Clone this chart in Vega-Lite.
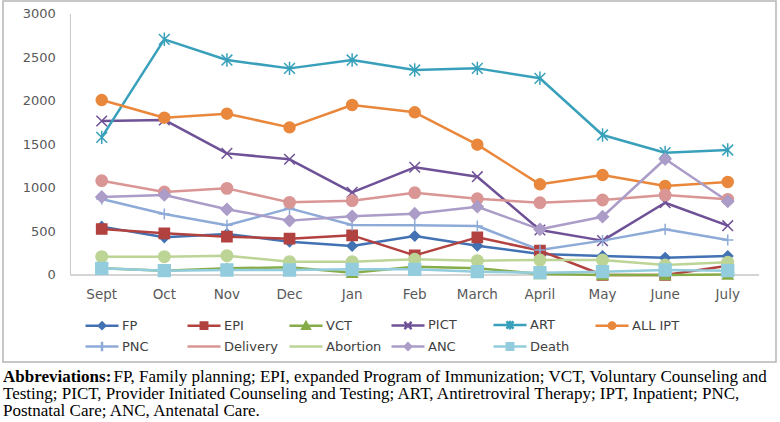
{
  "$schema": "https://vega.github.io/schema/vega-lite/v6.json",
  "width": 773,
  "height": 361,
  "autosize": {"type": "none"},
  "padding": {"left": 3, "top": 1, "right": 4, "bottom": 60},
  "background": "white",
  "config": {
    "view": {"stroke": "#b5b5b5", "strokeWidth": 1.5},
    "font": "DejaVu Sans",
    "axisX": {"offset": -77, "labelPadding": 2, "ticks": false, "domain": false, "grid": false, "labelFontSize": 13.5, "labelColor": "#595959", "labelAngle": 0, "labelFont": "DejaVu Sans"},
    "axisY": {"offset": -67.4, "labelPadding": 15, "ticks": false, "domain": false, "grid": false, "labelFontSize": 13, "labelColor": "#595959", "labelFont": "DejaVu Sans"}
  },
  "title": {
    "text": "Abbreviations:",
    "orient": "bottom",
    "anchor": "start",
    "frame": "group",
    "font": "Liberation Serif",
    "fontSize": 17,
    "fontWeight": "bold",
    "color": "#000000",
    "offset": 7,
    "subtitle": [
      "\u200b\u00a0\u00a0\u00a0\u00a0\u00a0\u00a0\u00a0\u00a0\u00a0\u00a0\u00a0\u00a0\u00a0\u00a0\u00a0\u00a0\u00a0\u00a0\u00a0\u00a0\u00a0\u00a0\u00a0\u00a0\u00a0\u00a0FP, Family planning; EPI, expanded Program of Immunization; VCT, Voluntary Counseling and",
      "Testing; PICT, Provider Initiated Counseling and Testing; ART, Antiretroviral Therapy; IPT, Inpatient; PNC,",
      "Postnatal Care; ANC, Antenatal Care."
    ],
    "subtitleFont": "Liberation Serif",
    "subtitleFontSize": 17,
    "subtitleColor": "#000000",
    "subtitleLineHeight": 17,
    "subtitlePadding": -17
  },
  "data": {
    "values": [
      {"month": "Sept", "FP": 556, "EPI": 529, "VCT": 77, "PICT": 1770, "ART": 1582, "ALL IPT": 2011, "PNC": 874, "Delivery": 1084, "Abortion": 211, "ANC": 897, "Death": 77},
      {"month": "Oct", "FP": 433, "EPI": 479, "VCT": 50, "PICT": 1782, "ART": 2709, "ALL IPT": 1808, "PNC": 701, "Delivery": 954, "Abortion": 211, "ANC": 920, "Death": 50},
      {"month": "Nov", "FP": 471, "EPI": 441, "VCT": 77, "PICT": 1398, "ART": 2471, "ALL IPT": 1854, "PNC": 571, "Delivery": 996, "Abortion": 222, "ANC": 755, "Death": 57},
      {"month": "Dec", "FP": 383, "EPI": 418, "VCT": 88, "PICT": 1330, "ART": 2375, "ALL IPT": 1697, "PNC": 766, "Delivery": 835, "Abortion": 153, "ANC": 625, "Death": 57},
      {"month": "Jan", "FP": 333, "EPI": 456, "VCT": 27, "PICT": 950, "ART": 2471, "ALL IPT": 1954, "PNC": 575, "Delivery": 854, "Abortion": 153, "ANC": 674, "Death": 65},
      {"month": "Feb", "FP": 448, "EPI": 226, "VCT": 96, "PICT": 1238, "ART": 2356, "ALL IPT": 1870, "PNC": 571, "Delivery": 946, "Abortion": 180, "ANC": 705, "Death": 65},
      {"month": "March", "FP": 337, "EPI": 433, "VCT": 77, "PICT": 1130, "ART": 2375, "ALL IPT": 1498, "PNC": 563, "Delivery": 877, "Abortion": 165, "ANC": 785, "Death": 38},
      {"month": "April", "FP": 241, "EPI": 280, "VCT": 11, "PICT": 517, "ART": 2261, "ALL IPT": 1042, "PNC": 287, "Delivery": 831, "Abortion": 172, "ANC": 525, "Death": 27},
      {"month": "May", "FP": 218, "EPI": 0, "VCT": 0, "PICT": 395, "ART": 1609, "ALL IPT": 1149, "PNC": 395, "Delivery": 862, "Abortion": 172, "ANC": 670, "Death": 38},
      {"month": "June", "FP": 199, "EPI": 0, "VCT": 0, "PICT": 831, "ART": 1406, "ALL IPT": 1023, "PNC": 525, "Delivery": 920, "Abortion": 115, "ANC": 1333, "Death": 57},
      {"month": "July", "FP": 218, "EPI": 107, "VCT": 5, "PICT": 567, "ART": 1437, "ALL IPT": 1069, "PNC": 402, "Delivery": 870, "Abortion": 146, "ANC": 847, "Death": 50}
    ]
  },
  "transform": [
    {"fold": ["FP", "EPI", "VCT", "PICT", "ART", "ALL IPT", "PNC", "Delivery", "Abortion", "ANC", "Death"], "as": ["series", "value"]}
  ],
  "resolve": {"legend": {"color": "independent", "fill": "independent", "stroke": "independent", "shape": "independent", "size": "independent"}},
  "layer": [
    {
      "transform": [{"filter": "datum.series == 'FP'"}],
      "mark": {"type": "rect", "filled": false, "stroke": "#c6c6c6", "strokeWidth": 1},
      "encoding": {
        "x": {"field": "month", "type": "ordinal", "title": null, "scale": {"type": "band", "domain": ["Sept", "Oct", "Nov", "Dec", "Jan", "Feb", "March", "April", "May", "June", "July"], "paddingInner": 0, "paddingOuter": 0.674, "align": 0.799}},
        "y": {"datum": 0, "type": "quantitative", "title": null},
        "y2": {"datum": 0}
      }
    },
    {
      "transform": [{"filter": "datum.series == 'FP' && datum.month == 'Sept'"}],
      "mark": {"type": "rule", "color": "#c6c6c6", "strokeWidth": 1},
      "encoding": {
        "x": {"datum": "Sept", "type": "ordinal", "bandPosition": 0, "title": null},
        "y": {"datum": 0, "type": "quantitative", "title": null},
        "y2": {"datum": 3000}
      }
    },
    {
      "mark": {"type": "line", "strokeWidth": 2.5, "strokeJoin": "round"},
      "encoding": {
        "x": {"field": "month", "type": "ordinal", "bandPosition": 0.5, "title": null},
        "y": {"field": "value", "type": "quantitative", "title": null, "scale": {"domain": [-1000, 3149.4], "nice": false, "zero": false}, "axis": {"values": [0, 500, 1000, 1500, 2000, 2500, 3000], "format": "d"}},
        "color": {
          "field": "series",
          "type": "nominal",
          "scale": {
            "domain": ["FP", "EPI", "VCT", "PICT", "ART", "ALL IPT", "PNC", "Delivery", "Abortion", "ANC", "Death"],
            "range": ["#4272b3", "#b2423f", "#86ac47", "#6e5196", "#38a0ba", "#e9883c", "#8eabd8", "#d99694", "#bcd496", "#ab9cc8", "#93cddd"]
          },
          "legend": {
            "title": null,
            "orient": "none",
            "legendX": 80,
            "legendY": 317,
            "padding": 0,
            "columns": 6,
            "direction": "horizontal",
            "gridAlign": "all",
            "columnPadding": 4,
            "rowPadding": 1,
            "symbolSize": 64,
            "symbolStrokeWidth": 2.5,
            "labelOffset": 26,
            "labelFont": "DejaVu Sans",
            "labelFontSize": 13,
            "labelColor": "#404040",
            "encode": {
              "symbols": {
                "update": {
                  "shape": {"signal": "['M-1,0H7.25M3.125,-0.8L3.925,0L3.125,0.8L2.325,0Z', 'M-1,0H7.25M2.325,-0.8H3.925V0.8H2.325Z', 'M-1,0H7.25M3.125,-0.9L4.025,0.7H2.225Z', 'M-1,0H7.25M2.225,-0.9L4.025,0.9M2.225,0.9L4.025,-0.9', 'M-1,0H7.25M2.225,-0.9L4.025,0.9M2.225,0.9L4.025,-0.9M3.125,-1.1V1.1', 'M-1,0H7.25M2.325,0A0.8,0.8 0 1,0 3.925,0A0.8,0.8 0 1,0 2.325,0Z', 'M-1,0H7.25M3.125,-1.2V1.2', 'M-1,0H7.25', 'M-1,0H7.25', 'M-1,0H7.25M3.125,-0.8L3.925,0L3.125,0.8L2.325,0Z', 'M-1,0H7.25M2.325,-0.8H3.925V0.8H2.325Z'][indexof(['FP', 'EPI', 'VCT', 'PICT', 'ART', 'ALL IPT', 'PNC', 'Delivery', 'Abortion', 'ANC', 'Death'], datum.value)]"},
                  "fill": {"scale": "color", "field": "value"},
                  "stroke": {"scale": "color", "field": "value"},
                  "strokeWidth": {"value": 2.5},
                  "size": {"value": 64},
                  "opacity": {"value": 1}
                }
              }
            }
          }
        }
      }
    },
    {
      "mark": {"type": "point", "filled": true, "strokeWidth": 1.5, "opacity": 1},
      "encoding": {
        "x": {"field": "month", "type": "ordinal", "bandPosition": 0.5, "title": null},
        "y": {"field": "value", "type": "quantitative", "title": null},
        "fill": {
          "field": "series", "type": "nominal", "legend": null,
          "scale": {
            "domain": ["FP", "EPI", "VCT", "PICT", "ART", "ALL IPT", "PNC", "Delivery", "Abortion", "ANC", "Death"],
            "range": ["#4272b3", "#b2423f", "#86ac47", "#6e5196", "#38a0ba", "#e9883c", "#8eabd8", "#d99694", "#bcd496", "#ab9cc8", "#93cddd"]
          }
        },
        "stroke": {
          "field": "series", "type": "nominal", "legend": null,
          "scale": {
            "domain": ["FP", "EPI", "VCT", "PICT", "ART", "ALL IPT", "PNC", "Delivery", "Abortion", "ANC", "Death"],
            "range": ["#4272b3", "#b2423f", "#86ac47", "#6e5196", "#38a0ba", "#e9883c", "#8eabd8", "#d99694", "#bcd496", "#ab9cc8", "#93cddd"]
          }
        },
        "shape": {
          "field": "series", "type": "nominal", "legend": null,
          "scale": {
            "domain": ["FP", "EPI", "VCT", "PICT", "ART", "ALL IPT", "PNC", "Delivery", "Abortion", "ANC", "Death"],
            "range": ["diamond", "square", "triangle-up", "M-1,-1L1,1M-1,1L1,-1", "M-1,-1L1,1M-1,1L1,-1M0,-1.25V1.25", "circle", "M-1,0H1M0,-1V1", "circle", "circle", "diamond", "square"]
          }
        },
        "size": {
          "field": "series", "type": "nominal", "legend": null,
          "scale": {
            "domain": ["FP", "EPI", "VCT", "PICT", "ART", "ALL IPT", "PNC", "Delivery", "Abortion", "ANC", "Death"],
            "range": [100, 140, 90, 110, 140, 140, 180, 0, 0, 110, 150]
          }
        }
      }
    }
  ]
}
